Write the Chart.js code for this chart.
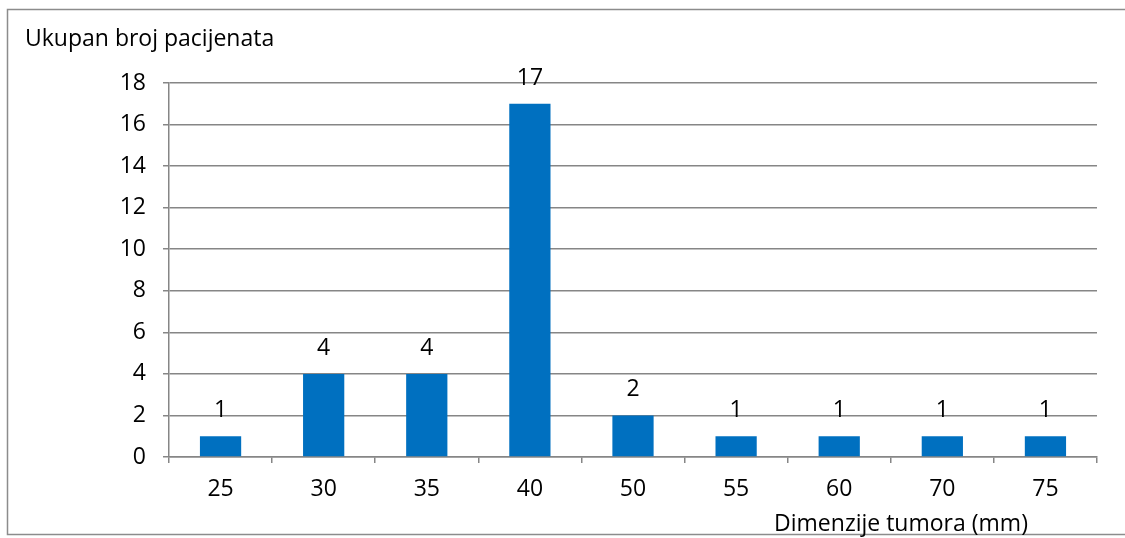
<!DOCTYPE html>
<html>
<head>
<meta charset="utf-8">
<script src="https://cdn.jsdelivr.net/npm/chart.js@4"></script>
<style>
  html, body { margin: 0; padding: 0; background: #fff; }
  #wrap { width: 1125px; height: 538px; }
</style>
</head>
<body>
<div id="wrap"><canvas id="tumorChart" width="1125" height="538"></canvas></div>
<script>
const categories = ["25", "30", "35", "40", "50", "55", "60", "70", "75"];
const patientCounts = [1, 4, 4, 17, 2, 1, 1, 1, 1];
const yTitle = "Ukupan broj pacijenata";
const xTitle = "Dimenzije tumora (mm)";

const FONT = "'Open Sans', 'Liberation Sans', sans-serif";
const FONT_SIZE = 23;
const gridColor = "#868686";

// frame, axis titles and value labels
const extras = {
    id: "extras",
    beforeDraw(chart) {
        const ctx = chart.ctx;
        ctx.save();
        ctx.fillStyle = "#fff";
        ctx.fillRect(0, 0, chart.width, chart.height);
        ctx.strokeStyle = "#8c8c8c";
        ctx.lineWidth = 1.5;
        ctx.strokeRect(7.5, 9.5, 1130, 525);
        ctx.restore();
    },
    afterDatasetsDraw(chart) {
        const ctx = chart.ctx;
        ctx.save();
        ctx.font = FONT_SIZE + "px " + FONT;
        ctx.fillStyle = "#000";
        ctx.textAlign = "center";
        ctx.textBaseline = "alphabetic";
        chart.getDatasetMeta(0).data.forEach((bar, i) => {
            ctx.fillText(String(patientCounts[i]), bar.x, bar.y - 19);
        });
        ctx.textAlign = "left";
        ctx.fillText(yTitle, 25, 46);
        ctx.textAlign = "center";
        ctx.fillText(xTitle, 901, 531);
        ctx.restore();
    }
};

const ctx = document.getElementById("tumorChart").getContext("2d");
const chart = new Chart(ctx, {
    type: "bar",
    data: {
        labels: categories,
        datasets: [{
            data: patientCounts,
            backgroundColor: "#0070C0",
            barPercentage: 0.4,
            categoryPercentage: 1.0
        }]
    },
    options: {
        responsive: false,
        animation: false,
        devicePixelRatio: 1,
        layout: { padding: { top: 83, right: 28, left: 0, bottom: 0 } },
        plugins: {
            legend: { display: false },
            tooltip: { enabled: false }
        },
        scales: {
            x: {
                offset: true,
                grid: {
                    offset: true,
                    drawOnChartArea: false,
                    color: gridColor,
                    lineWidth: 1.5,
                    tickLength: 6
                },
                border: { color: gridColor, width: 1.5 },
                ticks: {
                    color: "#000",
                    font: { family: FONT, size: FONT_SIZE },
                    padding: 13,
                    maxRotation: 0
                },
                afterFit(scale) { scale.height = 81; }
            },
            y: {
                min: 0,
                max: 18,
                ticks: {
                    stepSize: 2,
                    color: "#000",
                    font: { family: FONT, size: FONT_SIZE },
                    padding: 17
                },
                grid: {
                    color: gridColor,
                    lineWidth: 1.5,
                    tickLength: 6
                },
                border: { color: gridColor, width: 1.5 },
                afterFit(scale) { scale.width = 169; }
            }
        }
    },
    plugins: [extras]
});
</script>
</body>
</html>
